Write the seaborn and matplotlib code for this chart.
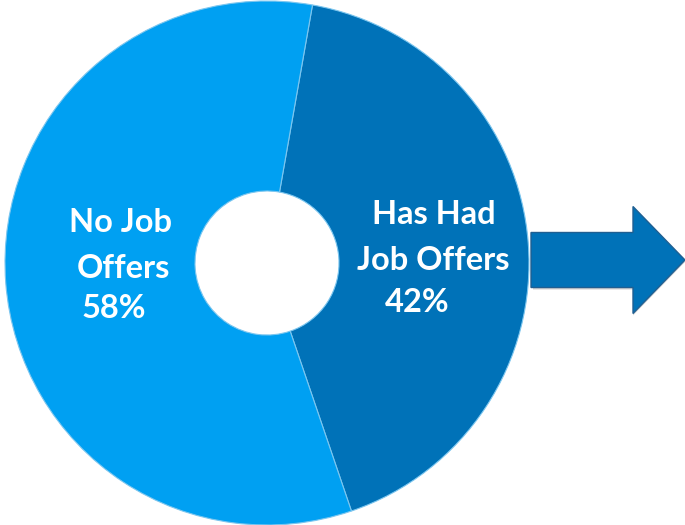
import matplotlib
matplotlib.use("Agg")
import matplotlib.pyplot as plt
import matplotlib.patches as mpatches
import seaborn as sns

# Data
labels = ["Has Had\nJob Offers", "No Job\nOffers"]
shares = [42, 58]
colors = ["#0072B8", "#00A0F2"]

sns.set_theme(style="white")
plt.rcParams['font.family'] = ['Lato', 'DejaVu Sans']

fig = plt.figure(figsize=(6.85, 5.25), dpi=100)
ax = fig.add_axes([0, 0, 1, 1])

# Donut
wedges, _ = ax.pie(shares, colors=colors, startangle=80, counterclock=False,
                   center=(267, 262), radius=262, frame=True,
                   wedgeprops=dict(width=190, edgecolor='#7cc6ef', linewidth=0.8))
ax.set_xlim(0, 685)
ax.set_ylim(0, 525)
ax.set_aspect('equal')
ax.axis('off')

# Labels
txt = dict(color='white', fontsize=23.5, fontweight='bold', ha='center', va='center')
ax.text(121, 525 - 222, "No Job", **txt)
ax.text(123, 525 - 268, "Offers", **txt)
ax.text(114, 525 - 308, f"{shares[1]}%", **txt)
ax.text(434, 525 - 215, "Has Had", **txt)
ax.text(433, 525 - 260, "Job Offers", **txt)
ax.text(417, 525 - 302, f"{shares[0]}%", **txt)

# Arrow with soft shadow
shadow = mpatches.FancyArrow(533, 525 - 262, 152, 0, width=55, head_width=107,
                             head_length=52, length_includes_head=True,
                             color='#1a1a1a', alpha=0.2, linewidth=0)
ax.add_patch(shadow)
arrow = mpatches.FancyArrow(531, 525 - 260, 154, 0, width=55, head_width=107,
                            head_length=52, length_includes_head=True,
                            facecolor='#0072B8', edgecolor='#1f5f92', linewidth=1)
ax.add_patch(arrow)

fig.savefig('out.png', dpi=100)
